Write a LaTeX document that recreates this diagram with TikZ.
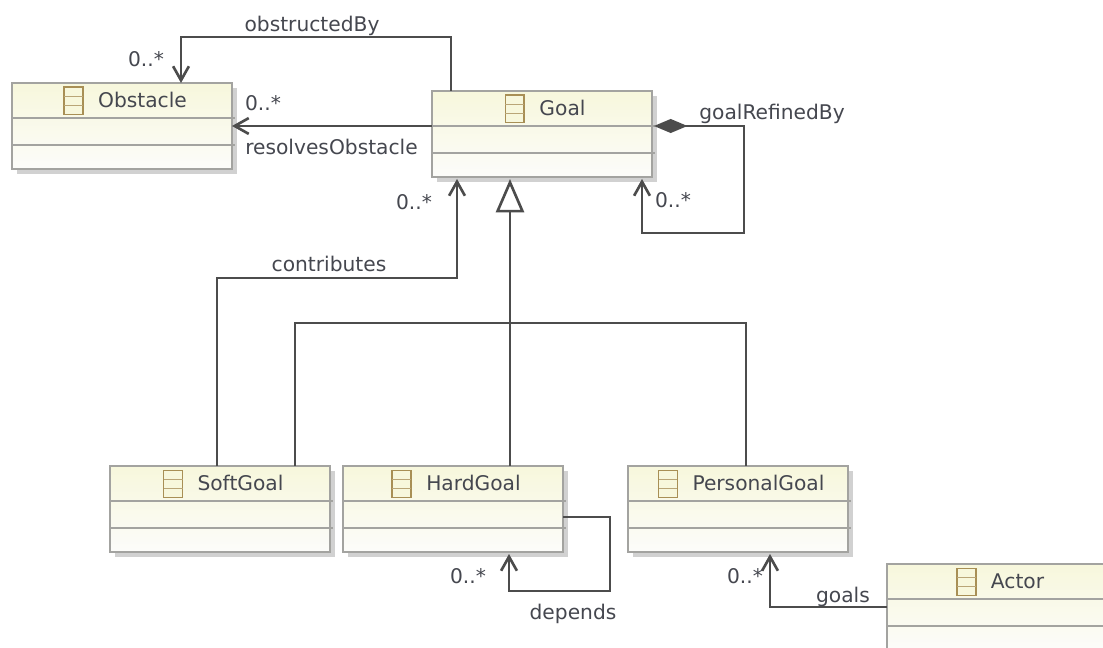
\documentclass[tikz,border=0pt]{standalone}
\usepackage{fontspec}
\setmainfont{DejaVu Sans}
\usetikzlibrary{arrows.meta,shadows}

\newcommand{\upx}{0.569pt}
\definecolor{classtop}{HTML}{F7F7DC}
\definecolor{classbottom}{HTML}{FCFCFA}
\definecolor{classedge}{HTML}{A3A3A0}
\definecolor{classink}{HTML}{45474F}
\definecolor{wireink}{HTML}{4C4C4C}
\definecolor{iconedge}{HTML}{A88F55}

\tikzset{
  classbox/.style={draw=classedge,line width=0.9pt,outer sep=0pt,anchor=north west,minimum width=220*\upx,minimum height=86*\upx,
    top color=classtop,bottom color=classbottom,
    drop shadow={shadow xshift=3pt,shadow yshift=-3pt,fill=black,opacity=0.18}},
  classline/.style={draw=classedge,line width=0.7pt},
  classtitle/.style={text=classink,font=\fontsize{11.5}{14}\selectfont,inner sep=0pt},
  rolelabel/.style={text=classink,font=\fontsize{11.5}{14}\selectfont,inner sep=0pt,text height=9.5pt,text depth=2.5pt},
  assoc/.style={draw=wireink,line width=1.5pt,-{Straight Barb[length=8pt,width=9pt]}},
  owned/.style={draw=wireink,line width=1.5pt,{Diamond[length=19pt,width=8pt]}-{Straight Barb[length=8pt,width=9pt]}},
  inherit/.style={draw=wireink,line width=1.5pt,-{Triangle[open,length=19pt,width=16pt,fill=white]}},
  branch/.style={draw=wireink,line width=1.5pt}
}

\newcommand{\classicon}{\tikz[baseline=0pt]{
  \draw[iconedge,fill=classtop,line width=1.1pt] (0,-4pt) rectangle (10.8pt,11.4pt);
  \draw[iconedge!80,line width=0.7pt] (0,1.2pt) -- (10.8pt,1.2pt);
  \draw[iconedge!80,line width=0.7pt] (0,6.2pt) -- (10.8pt,6.2pt);
}}

\newcommand{\umlclass}[4]{
  \node[classbox] (#1) at (#2,#3) {};
  \draw[classline] ([yshift=-35*\upx]#1.north west) -- ([yshift=-35*\upx,xshift=3*\upx]#1.north east);
  \draw[classline] ([yshift=-62*\upx]#1.north west) -- ([yshift=-62*\upx,xshift=3*\upx]#1.north east);
  \node[classtitle] (#1title) at ([xshift=3*\upx,yshift=-18*\upx]#1.north) {\classicon\hspace{8pt}#4};
}

\begin{document}
\begin{tikzpicture}[x=\upx,y=-\upx]
\clip (0,0) rectangle (1103,648);
\fill[white] (0,0) rectangle (1103,648);

\umlclass{obstacle}{12}{83}{Obstacle}
\umlclass{goal}{432}{91}{Goal}
\umlclass{softgoal}{110}{466}{SoftGoal}
\umlclass{hardgoal}{343}{466}{HardGoal}
\umlclass{personalgoal}{628}{466}{PersonalGoal}
\umlclass{actor}{887}{564}{Actor}

\draw[assoc] ([xshift=19*\upx]goal.north west) -- ++(0,-54) -| ([xshift=169*\upx]obstacle.north west);
\draw[assoc] (goal.west |- obstacle.east) -- (obstacle.east);
\draw[owned] ([xshift=2*\upx]goal.east |- obstacle.east) -- ++(90,0) -- ++(0,107) -| ([xshift=-10*\upx,yshift=-2*\upx]goal.south east);
\draw[assoc] ([xshift=107*\upx]softgoal.north west) -- ++(0,-188) -| ([xshift=25*\upx,yshift=-2*\upx]goal.south west);
\draw[branch] ([xshift=185*\upx]softgoal.north west) -- ++(0,-143) -| ([xshift=118*\upx]personalgoal.north west);
\draw[inherit] ([xshift=167*\upx]hardgoal.north west) -- ([xshift=78*\upx,yshift=-2*\upx]goal.south west);
\draw[assoc] ([yshift=-8*\upx]hardgoal.east) -- ++(47,0) -- ++(0,74) -| ([xshift=166*\upx,yshift=-2*\upx]hardgoal.south west);
\draw[assoc] (actor.west) -| ([xshift=142*\upx,yshift=-2*\upx]personalgoal.south west);

\node[rolelabel] (obstructedlabel) at (312,25) {obstructedBy};
\node[rolelabel] (obstructedmult) at (146,60) {0..*};
\node[rolelabel] (resolvesmult) at (263,104) {0..*};
\node[rolelabel] (resolveslabel) at (331.5,148) {resolvesObstacle};
\node[rolelabel] (refinedlabel) at (772,113) {goalRefinedBy};
\node[rolelabel] (refinedmult) at (673,201) {0..*};
\node[rolelabel] (contribmult) at (414,203) {0..*};
\node[rolelabel] (contriblabel) at (329,265) {contributes};
\node[rolelabel] (dependsmult) at (468,577) {0..*};
\node[rolelabel] (dependslabel) at (573,613) {depends};
\node[rolelabel] (goalsmult) at (745,577) {0..*};
\node[rolelabel] (goalslabel) at (843,596) {goals};
\end{tikzpicture}
\end{document}
